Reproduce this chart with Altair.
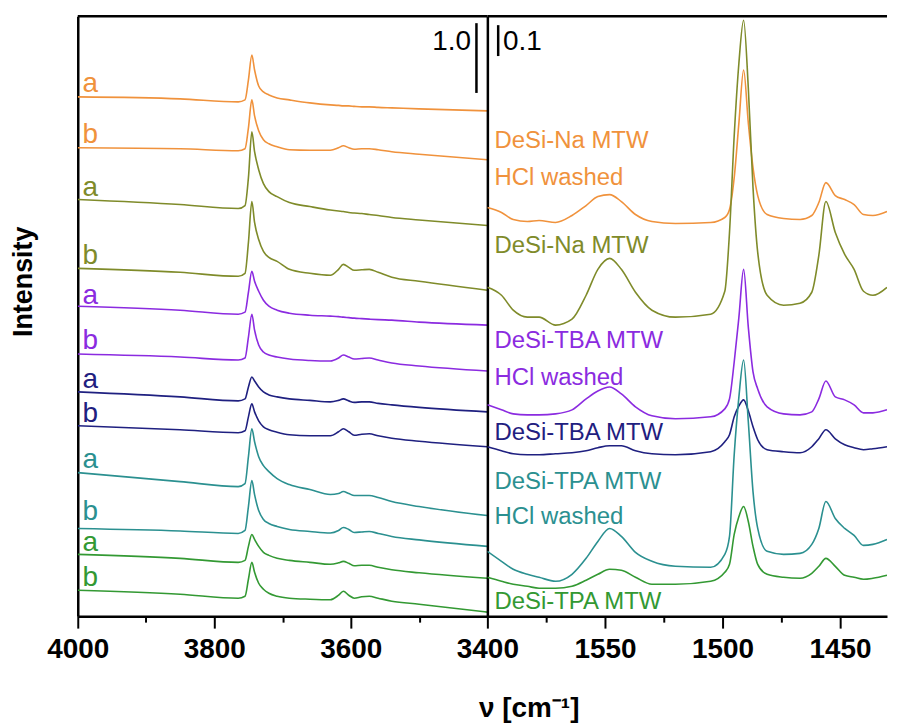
import altair as alt
import pandas as pd

# ---------------- data (arbitrary offset intensity units) ----------------
SAMPLES = ["DeSi-Na MTW HCl washed", "DeSi-Na MTW", "DeSi-TBA MTW HCl washed",
           "DeSi-TBA MTW", "DeSi-TPA MTW HCl washed", "DeSi-TPA MTW"]
COLORS = ["#F0923C", "#7F8B2A", "#8B2BE0", "#1F2080", "#2B9090", "#339933"]

LEFT_WN = [4000, 3850, 3765, 3755, 3750, 3745, 3741, 3735, 3728, 3720, 3708, 3690,
           3660, 3630, 3618, 3611, 3603, 3595, 3584, 3573, 3560, 3540, 3500, 3400]

na_hcl_a = [521, 519, 516, 518, 538, 563, 548, 532, 526, 523, 520, 518,
            515, 513, 512.5, 512, 512, 511.5, 511, 511, 510.5, 510, 509, 507]
na_hcl_b = [470, 469, 467, 469, 490, 518, 502, 487, 478, 474, 471, 468,
            467.5, 467.5, 470, 472, 470, 468.5, 469, 469, 468, 466, 463.5, 458]
na_a = [418, 413, 409, 412, 440, 486, 466, 448, 434, 426, 421, 415,
        411, 407.5, 406.5, 406, 405, 404.5, 404, 403, 402, 400, 397.5, 392]
na_b = [349, 345, 341, 344, 375, 416, 395, 378, 366, 360, 356, 348,
        344, 342, 348, 353, 350, 347, 347.5, 348, 345, 340, 336, 327]
tba_hcl_a = [311, 307, 303, 305, 325, 346, 336, 326, 317, 311, 307, 304,
             302, 301, 300.5, 300, 299.5, 299, 298.5, 298, 297.5, 297, 295, 292]
tba_hcl_b = [263, 260, 257, 259, 280, 303, 287, 272, 265, 262, 260, 258,
             256.5, 256, 259, 262, 260, 258, 258.5, 259, 257, 254, 251, 246]
tba_a = [225, 220, 216, 218, 230, 240, 236, 230, 225, 222, 220, 218,
         216.5, 215, 216.5, 218, 216, 214.5, 215, 215, 213.5, 212, 209.5, 205]
tba_b = [191, 187, 184, 186, 200, 213, 205, 196, 190, 187, 184.5, 182,
         181, 181, 185, 188, 185, 181.5, 182.5, 183, 181, 178.5, 175.5, 170]
tpa_hcl_a = [144, 135, 130, 133, 160, 188, 175, 160, 151, 145, 138, 132,
             127, 122, 123, 125, 123, 121, 121, 121, 119, 115, 110, 101]
tpa_hcl_b = [88, 85.5, 83, 86, 110, 136, 122, 106, 97, 93, 90, 87,
             85, 83.5, 86, 89, 87, 84, 84.5, 85, 83, 80, 76.5, 70]
tpa_a = [62, 58, 54, 56, 70, 82, 77, 70, 64, 61, 58, 56,
         54, 52, 53.5, 55, 53, 50.5, 51, 51, 49, 46.5, 43.5, 38]
tpa_b = [26, 22, 18, 20, 37, 54, 44, 33, 27, 23, 20, 18,
         17, 16.5, 21, 25, 21, 18, 19.5, 20, 18, 15, 12, 4]

LEFT_CURVES = [
    (SAMPLES[0], "a", na_hcl_a, 526), (SAMPLES[0], "b", na_hcl_b, 475),
    (SAMPLES[1], "a", na_a, 422), (SAMPLES[1], "b", na_b, 353),
    (SAMPLES[2], "a", tba_hcl_a, 313), (SAMPLES[2], "b", tba_hcl_b, 268),
    (SAMPLES[3], "a", tba_a, 229), (SAMPLES[3], "b", tba_b, 195),
    (SAMPLES[4], "a", tpa_hcl_a, 149), (SAMPLES[4], "b", tpa_hcl_b, 96),
    (SAMPLES[5], "a", tpa_a, 65), (SAMPLES[5], "b", tpa_b, 30),
]

RIGHT_WN = [1600, 1594, 1589, 1583, 1578, 1571, 1564, 1558, 1553, 1548,
            1543, 1537, 1530, 1520, 1505, 1499, 1497, 1495, 1493, 1491,
            1489, 1487, 1485, 1481, 1474, 1467, 1462, 1459, 1456, 1452,
            1448, 1444, 1440, 1436, 1430]

r_na_hcl = [410, 405, 398, 396, 397, 395, 402, 412, 421, 423,
            416, 403, 396, 394, 395, 400, 408, 440, 495, 548,
            495, 450, 422, 403, 399, 398, 402, 415, 435, 422,
            418, 413, 403, 402, 406]
r_na = [330, 322, 307, 300, 300, 292, 298, 322, 348, 359,
        348, 325, 307, 300, 303, 326, 385, 482, 555, 598,
        530, 430, 365, 322, 312, 314, 325, 362, 416, 385,
        363, 348, 326, 322, 330]
r_tba_hcl = [212, 207, 203, 202, 202, 203, 207, 218, 226, 230,
             223, 210, 201, 198, 200, 208, 218, 255, 300, 348,
             290, 245, 228, 210, 203, 202, 205, 218, 236, 220,
             217, 212, 204, 204, 207]
r_tba = [170, 166, 163, 162, 162, 163, 164, 166, 169, 171,
         171, 166, 163, 162, 165, 175, 182, 200, 211, 217,
         206, 190, 177, 167, 165, 164, 170, 178, 187, 178,
         172, 169, 167, 168, 170]
r_tpa_hcl = [65, 55, 47, 42, 39, 35, 42, 58, 75, 88,
             80, 64, 55, 50, 49, 62, 80, 162, 220, 257,
             195, 125, 88, 65, 62, 63, 72, 88, 115, 98,
             88, 81, 71, 72, 77]
r_tpa = [39, 35, 32, 30, 28, 28, 30, 36, 42, 47,
         46, 39, 32, 32, 35, 44, 52, 82, 100, 110,
         95, 70, 52, 42, 39, 38, 43, 50, 58, 50,
         41, 39, 37, 38, 41]
RIGHT_CURVES = [r_na_hcl, r_na, r_tba_hcl, r_tba, r_tpa_hcl, r_tpa]

# label lines in the right panel: (sample, text, baseline intensity)
RIGHT_LABELS = [
    (SAMPLES[0], "DeSi-Na MTW", 470), (SAMPLES[0], "HCl washed", 433),
    (SAMPLES[1], "DeSi-Na MTW", 364),
    (SAMPLES[2], "DeSi-TBA MTW", 269), (SAMPLES[2], "HCl washed", 232),
    (SAMPLES[3], "DeSi-TBA MTW", 177),
    (SAMPLES[4], "DeSi-TPA MTW", 128), (SAMPLES[4], "HCl washed", 92),
    (SAMPLES[5], "DeSi-TPA MTW", 7),
]
LEFT_LABEL_WN = 3993
RIGHT_LABEL_WN = 1597

# scale bars: (wn, bottom, top, label, label wn)
LEFT_BAR = (3416, 525, 595, "1.0", 3424)
RIGHT_BAR = (1595.4, 562, 593, "0.1", 1593.4)
BAR_LABEL_Y = 568

# ---------------- tables ----------------
rows = []
for s, ab, vals, _ in LEFT_CURVES:
    for w, v in zip(LEFT_WN, vals):
        rows.append({"sample": s, "curve": s + "|" + ab, "wn": w, "intensity": v})
left_df = pd.DataFrame(rows)
left_lab = pd.DataFrame([{"sample": s, "text": ab, "wn": LEFT_LABEL_WN, "intensity": y}
                         for s, ab, _, y in LEFT_CURVES])

rows = []
for s, vals in zip(SAMPLES, RIGHT_CURVES):
    for w, v in zip(RIGHT_WN, vals):
        rows.append({"sample": s, "curve": s, "wn": w, "intensity": v})
right_df = pd.DataFrame(rows)
right_lab = pd.DataFrame([{"sample": s, "text": t, "wn": RIGHT_LABEL_WN, "intensity": y}
                          for s, t, y in RIGHT_LABELS])

FONT = "Liberation Sans"
color = alt.Color("sample:N", scale=alt.Scale(domain=SAMPLES, range=COLORS), legend=None)
LW, RW, H = 411, 401, 602


def y_enc(title):
    kw = dict(labels=False, ticks=False, grid=False, domainColor="black", domainWidth=2.5)
    if title:
        kw.update(title=title, titleAngle=270, titleX=-46, titleY=266, titleAlign="center",
                  titleBaseline="alphabetic", titleFontSize=27, titleFontWeight="bold",
                  titleFont=FONT, titleColor="black")
    else:
        kw.update(title=None)
    return alt.Y("intensity:Q", scale=alt.Scale(domain=[0, H], nice=False, zero=False),
                 axis=alt.Axis(**kw))


def x_enc(domain, values, major, **extra):
    return alt.X("wn:Q",
                 scale=alt.Scale(domain=domain, reverse=True, nice=False, zero=False),
                 axis=alt.Axis(values=values, format="d",
                               labelExpr=f"datum.value % {major} === 0 ? datum.label : ''",
                               tickSize={"condition": {"test": f"datum.value % {major} === 0",
                                                       "value": 12}, "value": 6},
                               tickWidth=2, tickColor="black", domainColor="black",
                               domainWidth=2.5, labelFont=FONT, labelFontSize=28,
                               labelFontWeight="bold", labelColor="black", labelPadding=7,
                               labelFlush=False, labelOverlap=False, grid=False, **extra))


xl = x_enc([3400, 4000], [4000, 3900, 3800, 3700, 3600, 3500, 3400], 200,
           title="ν [cm⁻¹]", titleX=452.5, titleY=101, titleAlign="center",
           titleBaseline="alphabetic", titleFontSize=28, titleFontWeight="bold",
           titleFont=FONT, titleColor="black")
xr = x_enc([1430, 1600], [1575, 1550, 1525, 1500, 1475, 1450], 50, title=None)

order = alt.Order("wn:Q", sort="descending")

left_lines = alt.Chart(left_df).mark_line(strokeWidth=1.6, interpolate="monotone", clip=True).encode(
    x=xl, y=y_enc("Intensity"), color=color, detail="curve:N", order=order)
left_text = alt.Chart(left_lab).mark_text(align="left", baseline="alphabetic", font=FONT,
                                          fontSize=28).encode(
    x="wn:Q", y="intensity:Q", text="text:N", color=color)
lbar = pd.DataFrame([{"wn": LEFT_BAR[0], "intensity": LEFT_BAR[1], "intensity2": LEFT_BAR[2]}])
lbar_t = pd.DataFrame([{"wn": LEFT_BAR[4], "intensity": BAR_LABEL_Y, "text": LEFT_BAR[3]}])
left_bar = alt.Chart(lbar).mark_rule(color="black", strokeWidth=2.5).encode(
    x="wn:Q", y="intensity:Q", y2="intensity2")
left_bar_text = alt.Chart(lbar_t).mark_text(align="right", baseline="alphabetic", font=FONT,
                                            fontSize=28, color="black").encode(
    x="wn:Q", y="intensity:Q", text="text:N")
edge = pd.DataFrame({"edge": ["top"]})
left_top = alt.Chart(edge).mark_rule(color="black", strokeWidth=2.5).encode(
    x=alt.value(0), x2=alt.value(LW), y=alt.value(0))
left = alt.layer(left_lines, left_text, left_bar, left_bar_text, left_top).properties(
    width=LW, height=H)

right_lines = alt.Chart(right_df).mark_line(strokeWidth=1.6, interpolate="monotone", clip=True).encode(
    x=xr, y=y_enc(None), color=color, detail="curve:N", order=order)
right_text = alt.Chart(right_lab).mark_text(align="left", baseline="alphabetic", font=FONT,
                                            fontSize=24).encode(
    x="wn:Q", y="intensity:Q", text="text:N", color=color)
rbar = pd.DataFrame([{"wn": RIGHT_BAR[0], "intensity": RIGHT_BAR[1], "intensity2": RIGHT_BAR[2]}])
rbar_t = pd.DataFrame([{"wn": RIGHT_BAR[4], "intensity": BAR_LABEL_Y, "text": RIGHT_BAR[3]}])
right_bar = alt.Chart(rbar).mark_rule(color="black", strokeWidth=2.5).encode(
    x="wn:Q", y="intensity:Q", y2="intensity2")
right_bar_text = alt.Chart(rbar_t).mark_text(align="left", baseline="alphabetic", font=FONT,
                                             fontSize=28, color="black").encode(
    x="wn:Q", y="intensity:Q", text="text:N")
right_top = alt.Chart(edge).mark_rule(color="black", strokeWidth=2.5).encode(
    x=alt.value(0), x2=alt.value(RW), y=alt.value(0))
right = alt.layer(right_lines, right_text, right_bar, right_bar_text, right_top).properties(
    width=RW, height=H)

chart = alt.hconcat(left, right, spacing=0, bounds="flush").resolve_scale(
    x="independent", y="independent", color="shared").properties(
    padding={"left": 2, "top": 5, "right": 0, "bottom": 0},
    background="white").configure_view(stroke=None)

chart.save("out.html", embed_options={"renderer": "svg", "actions": False})
